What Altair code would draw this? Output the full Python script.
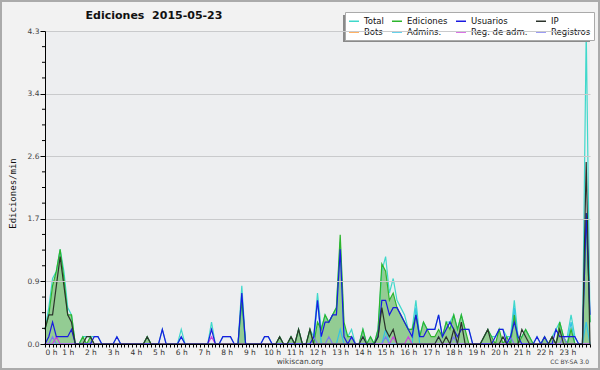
import altair as alt
import pandas as pd

# 10-minute bins over the day (0 .. 144)
bins = list(range(145))

series_names = ["Total", "Ediciones", "Usuarios", "IP", "Bots", "Admins.", "Reg. de adm.", "Registros"]
series_colors = ["#3FD8CB", "#2DB52D", "#1A1AE0", "#2B332B", "#FF9933", "#33C3E6", "#CC44DD", "#7B7BF0"]

total = [
    0.2, 0.5, 0.9, 1.0, 1.3, 1.0,
    0.5, 0.4, 0, 0, 0.1, 0.1,
    0.1, 0.1, 0.1, 0, 0, 0,
    0, 0.1, 0, 0, 0, 0,
    0, 0, 0, 0.1, 0, 0,
    0, 0.2, 0, 0, 0, 0,
    0.2, 0, 0, 0, 0, 0,
    0, 0, 0.3, 0, 0, 0.1,
    0.1, 0.1, 0, 0, 0.8, 0,
    0, 0, 0, 0, 0.1, 0.1,
    0, 0, 0.1, 0, 0, 0.1,
    0, 0.2, 0, 0, 0.2, 0.1,
    0.7, 0.2, 0.4, 0.3, 0.4, 0.5,
    1.4, 0.2, 0.1, 0.2, 0, 0,
    0.2, 0, 0.1, 0, 0.2, 1.0,
    1.2, 0.7, 0.9, 0.6, 0.5, 0.4,
    0.2, 0.2, 0.6, 0.1, 0.3, 0.2,
    0.2, 0.2, 0.4, 0.1, 0.3, 0.3,
    0.4, 0.2, 0.4, 0.2, 0.2, 0,
    0, 0, 0.1, 0.2, 0.1, 0.1,
    0.2, 0.2, 0.1, 0.1, 0.6, 0.1,
    0.1, 0.2, 0.1, 0, 0.1, 0,
    0.1, 0, 0.1, 0.2, 0.3, 0.1,
    0.1, 0.4, 0.1, 0, 0, 4.3,
    0.3,
]

ediciones = [
    0.2, 0.4, 0.8, 1.0, 1.3, 0.9,
    0.4, 0.4, 0, 0, 0.1, 0,
    0.1, 0, 0, 0, 0, 0,
    0, 0, 0, 0, 0, 0,
    0, 0, 0, 0.1, 0, 0,
    0, 0, 0, 0, 0, 0,
    0, 0, 0, 0, 0, 0,
    0, 0, 0, 0, 0, 0,
    0, 0, 0, 0, 0.6, 0,
    0, 0, 0, 0, 0, 0,
    0, 0, 0.1, 0, 0, 0.1,
    0, 0.2, 0, 0, 0.2, 0,
    0.3, 0.2, 0.4, 0.3, 0.4, 0.5,
    1.5, 0.3, 0.1, 0.1, 0, 0,
    0.2, 0, 0.1, 0, 0.2, 1.1,
    1.0, 0.6, 0.7, 0.5, 0.4, 0.3,
    0.2, 0.2, 0.4, 0.1, 0.3, 0.2,
    0.1, 0.1, 0.2, 0.1, 0.3, 0.2,
    0.4, 0.2, 0.4, 0.2, 0, 0,
    0, 0, 0.1, 0.2, 0.1, 0,
    0.2, 0, 0.1, 0, 0.4, 0,
    0.1, 0.2, 0.1, 0, 0, 0,
    0.1, 0, 0.1, 0, 0.3, 0.1,
    0, 0.2, 0, 0, 0, 1.8,
    0.3,
]

usuarios = [
    0, 0.1, 0.3, 0.1, 0.1, 0.1,
    0.1, 0.2, 0, 0, 0, 0,
    0, 0.1, 0.1, 0, 0, 0,
    0, 0.1, 0, 0, 0, 0,
    0, 0, 0, 0, 0, 0,
    0, 0.2, 0, 0, 0, 0,
    0.1, 0, 0, 0, 0, 0,
    0, 0, 0.2, 0, 0, 0.1,
    0.1, 0.1, 0, 0, 0.7, 0,
    0, 0, 0, 0, 0.1, 0.1,
    0, 0, 0, 0, 0, 0,
    0, 0, 0, 0, 0, 0.1,
    0.6, 0.1, 0.3, 0.3, 0.4, 0.4,
    1.3, 0.1, 0, 0.1, 0, 0,
    0, 0, 0, 0, 0.1, 0.6,
    0.6, 0.4, 0.5, 0.5, 0.4, 0.3,
    0.2, 0.1, 0.4, 0.1, 0.1, 0.2,
    0.2, 0.2, 0.4, 0.1, 0.2, 0.3,
    0.2, 0.1, 0.2, 0.2, 0.2, 0,
    0, 0, 0, 0, 0, 0.1,
    0.2, 0.2, 0, 0.1, 0.3, 0.1,
    0, 0, 0, 0, 0.1, 0,
    0.1, 0, 0, 0.2, 0.1, 0.1,
    0.1, 0.1, 0.1, 0, 0, 1.8,
    0.4,
]

ip = [
    0.2, 0.4, 0.4, 0.8, 1.2, 0.8,
    0.4, 0.3, 0, 0, 0, 0.1,
    0.1, 0, 0, 0, 0, 0,
    0, 0, 0, 0, 0, 0,
    0, 0, 0, 0.1, 0, 0,
    0, 0, 0, 0, 0, 0,
    0, 0, 0, 0, 0, 0,
    0, 0, 0, 0, 0, 0,
    0, 0, 0, 0, 0, 0,
    0, 0, 0, 0, 0, 0,
    0, 0, 0.1, 0, 0, 0.1,
    0, 0.2, 0, 0, 0.2, 0,
    0, 0, 0, 0, 0, 0,
    0, 0, 0, 0, 0, 0,
    0.1, 0, 0, 0, 0.1, 0.5,
    0.2, 0.1, 0.2, 0, 0, 0,
    0, 0, 0, 0, 0, 0,
    0, 0, 0.1, 0, 0.1, 0,
    0.2, 0, 0.3, 0, 0, 0,
    0, 0, 0.1, 0.2, 0, 0,
    0, 0.1, 0, 0, 0, 0,
    0.2, 0.1, 0, 0, 0, 0,
    0, 0, 0.1, 0, 0.2, 0,
    0, 0, 0, 0, 0, 2.5,
    0,
]

admins = [
    0, 0, 0, 0, 0, 0,
    0, 0, 0, 0, 0, 0,
    0, 0, 0, 0, 0, 0,
    0, 0, 0, 0, 0, 0,
    0, 0, 0, 0, 0, 0,
    0, 0, 0, 0, 0, 0,
    0.1, 0, 0, 0, 0, 0,
    0, 0, 0, 0, 0, 0,
    0, 0, 0, 0, 0.6, 0,
    0, 0, 0, 0, 0, 0,
    0, 0, 0, 0, 0, 0,
    0, 0, 0, 0, 0, 0,
    0.6, 0, 0, 0, 0, 0,
    0.2, 0, 0, 0, 0, 0,
    0, 0, 0, 0, 0, 0,
    0.2, 0, 0, 0, 0, 0,
    0, 0, 0.5, 0, 0, 0,
    0, 0, 0, 0, 0, 0,
    0, 0, 0, 0, 0, 0,
    0, 0, 0, 0, 0, 0,
    0, 0, 0, 0, 0.5, 0,
    0, 0, 0, 0, 0, 0,
    0, 0, 0, 0, 0, 0,
    0, 0.3, 0, 0, 0, 0.3,
    0,
]

reg_adm = [
    0, 0, 0, 0.1, 0, 0,
    0, 0, 0, 0, 0, 0,
    0, 0, 0, 0, 0, 0,
    0, 0, 0, 0, 0, 0,
    0, 0, 0, 0, 0, 0,
    0, 0, 0, 0, 0, 0,
    0, 0, 0, 0, 0, 0,
    0, 0, 0.1, 0, 0, 0,
    0, 0, 0, 0, 0, 0,
    0, 0, 0, 0, 0, 0,
    0, 0, 0, 0, 0, 0,
    0, 0, 0, 0, 0, 0,
    0, 0, 0, 0, 0, 0,
    0, 0, 0, 0, 0, 0,
    0, 0, 0, 0, 0, 0,
    0, 0, 0.1, 0, 0, 0,
    0.1, 0, 0, 0, 0, 0,
    0, 0, 0, 0, 0, 0,
    0, 0, 0, 0, 0, 0,
    0, 0, 0, 0, 0, 0,
    0, 0, 0, 0, 0, 0,
    0, 0, 0, 0, 0, 0,
    0, 0, 0, 0, 0, 0,
    0, 0, 0, 0, 0, 0,
    0,
]

registros = [
    0, 0, 0.1, 0, 0, 0,
    0, 0, 0, 0, 0, 0,
    0, 0, 0, 0, 0, 0,
    0, 0, 0, 0, 0, 0,
    0, 0, 0, 0, 0, 0,
    0, 0, 0, 0, 0, 0,
    0, 0, 0, 0, 0, 0,
    0, 0, 0, 0, 0, 0,
    0, 0, 0, 0, 0, 0,
    0, 0, 0, 0, 0, 0,
    0, 0, 0, 0, 0, 0,
    0, 0, 0, 0, 0, 0.1,
    0, 0, 0, 0.1, 0, 0,
    0, 0, 0, 0.1, 0, 0,
    0.1, 0, 0, 0, 0, 0,
    0.1, 0, 0, 0, 0, 0,
    0, 0, 0, 0, 0, 0,
    0, 0, 0.1, 0, 0, 0,
    0.1, 0, 0, 0, 0, 0,
    0, 0, 0, 0, 0, 0,
    0, 0, 0, 0.1, 0, 0,
    0, 0, 0, 0, 0, 0,
    0, 0, 0, 0, 0, 0.1,
    0, 0, 0, 0, 0, 0,
    0,
]

y_major = [0, 0.86, 1.72, 2.58, 3.44, 4.3]
y_minor = [0.215, 0.43, 0.645, 1.075, 1.29, 1.505, 1.935, 2.15, 2.365,
           2.795, 3.01, 3.225, 3.655, 3.87, 4.085]

title_text = "Ediciones\u00a0 2015-05-23"
y_title = "Ediciones/min"
site_text = "wikiscan.org"
license_text = "CC BY-SA 3.0"

# ---- data frames ----
draw_order = [("Total", total), ("Admins.", admins), ("Ediciones", ediciones),
              ("Registros", registros), ("Reg. de adm.", reg_adm),
              ("Usuarios", usuarios), ("IP", ip)]
rows = []
for name, vals in draw_order:
    for b, v in zip(bins, vals):
        rows.append({"bin": b, "value": v, "series": name})
df_lines = pd.DataFrame(rows)
df_area = pd.DataFrame({"bin": bins, "value": ediciones})
df_minor = pd.DataFrame({"v": y_minor})
one = pd.DataFrame({"k": [0]})

y_scale = alt.Scale(domain=[0, 4.3], nice=False, zero=True)
x_scale = alt.Scale(domain=[0, 144], nice=False, zero=False)

x_axis = alt.Axis(
    values=bins, labelExpr="datum.value % 6 == 0 && datum.value < 144 ? (datum.value / 6) + ' h' : ''",
    tickSize=3, tickColor="black", domainColor="black", tickWidth=1, domainWidth=1,
    labelFont="DejaVu Sans", labelFontSize=7.5, labelColor="#333333", labelPadding=1,
    labelOverlap=False, grid=False, title=None, zindex=1,
)
y_axis = alt.Axis(
    values=y_major, format=".1f", tickSize=5, tickColor="black", domainColor="black",
    labelFont="DejaVu Sans", labelFontSize=7.5, labelColor="#444444", labelPadding=1,
    grid=True, gridColor="#C9CACC", gridWidth=1, zindex=1,
    title=y_title, titleFont="DejaVu Sans Mono", titleFontSize=9, titleFontWeight="normal",
    titleColor="#111111", titleX=-33, titleY=162, titleAngle=270, titleAlign="center",
    titleBaseline="middle",
)

border = alt.Chart(one).mark_rect(fill="#F2F2F2", stroke="#ABABAB", strokeWidth=2).encode(
    x=alt.value(-44), x2=alt.value(554), y=alt.value(-30), y2=alt.value(338)
)
plotbg = alt.Chart(one).mark_rect(fill="#EDEEF0").encode(
    x=alt.value(0), x2=alt.value(545), y=alt.value(0), y2=alt.value(313)
)

area = alt.Chart(df_area).mark_area(color="#93CC93", opacity=1).encode(
    x=alt.X("bin:Q", scale=x_scale, axis=x_axis),
    y=alt.Y("value:Q", scale=y_scale, axis=y_axis),
)

lines = alt.Chart(df_lines).mark_line(strokeWidth=1.2).encode(
    x=alt.X("bin:Q", scale=x_scale, axis=x_axis),
    y=alt.Y("value:Q", scale=y_scale, axis=y_axis),
    color=alt.Color(
        "series:N", title=None,
        scale=alt.Scale(domain=series_names, range=series_colors),
        legend=alt.Legend(
            orient="none", legendX=300, legendY=-19, columns=4, direction="horizontal",
            symbolType="stroke", symbolSize=100, symbolStrokeWidth=1.5,
            labelFont="DejaVu Sans", labelFontSize=8.5, labelColor="#111111", labelOffset=4,
            padding=3, rowPadding=0, columnPadding=5,
            fillColor="white", strokeColor="#AAAAAA", labelLimit=200,
        ),
    ),
)

minor = alt.Chart(df_minor).mark_rule(color="black", strokeWidth=1).encode(
    y=alt.Y("v:Q", scale=y_scale, axis=y_axis), x=alt.value(-3), x2=alt.value(0)
)

shadow = alt.Chart(one).mark_rect(fill="#8A8A8A").encode(
    x=alt.value(298), x2=alt.value(545), y=alt.value(-16), y2=alt.value(11)
)

title = alt.Chart(pd.DataFrame({"t": [title_text]})).mark_text(
    font="DejaVu Sans", fontSize=11, fontWeight="bold", color="#111111", align="center", baseline="middle"
).encode(text="t:N", x=alt.value(109), y=alt.value(-15))

site = alt.Chart(pd.DataFrame({"t": [site_text]})).mark_text(
    font="DejaVu Sans", fontSize=7.5, color="#444444", align="center", baseline="middle"
).encode(text="t:N", x=alt.value(255), y=alt.value(331))

lic = alt.Chart(pd.DataFrame({"t": [license_text]})).mark_text(
    font="DejaVu Sans", fontSize=6, color="#444444", align="right", baseline="middle"
).encode(text="t:N", x=alt.value(544), y=alt.value(331))

chart = alt.layer(border, plotbg, area, lines, minor, shadow, title, site, lic).properties(
    width=545, height=313,
    autosize=alt.AutoSizeParams(type="none"),
    padding={"left": 45, "top": 31, "right": 10, "bottom": 26},
).configure(background="#F2F2F2").configure_view(stroke=None)

chart.save("out.html", embed_options={"renderer": "svg", "actions": False})
